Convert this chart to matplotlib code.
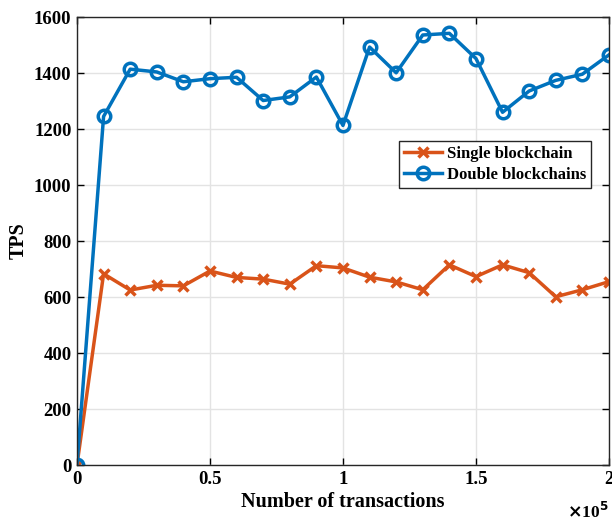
import numpy as np
import matplotlib
matplotlib.use("Agg")
from matplotlib import pyplot as plt

# number of transactions (x 1e5) and measured TPS
tx = np.arange(0, 2.01, 0.1)
single = [0, 683, 625, 642, 640, 693, 670, 664, 646, 712, 704,
          671, 654, 626, 715, 673, 715, 687, 601, 626, 655]
double = [0, 1245, 1414, 1404, 1369, 1380, 1385, 1302, 1315, 1386, 1213,
          1493, 1401, 1536, 1542, 1452, 1260, 1336, 1374, 1396, 1465]

plt.rcParams['font.family'] = ['Liberation Serif', 'DejaVu Serif']
plt.rcParams['font.weight'] = 'bold'

fig = plt.figure(figsize=(6.12, 5.18), dpi=100)
ax = fig.add_axes([0.1258, 0.1023, 0.8692, 0.8647])

ax.plot(tx, single, color='#D95319', lw=2.5, marker='x', ms=7, mew=2.5,
        label='Single blockchain')
ax.plot(tx, double, color='#0072BD', lw=2.5, marker='o', ms=9, mew=2.5,
        mfc='none', label='Double blockchains')

ax.set_xlim(0, 2)
ax.set_ylim(0, 1600)
ax.set_xticks([0, 0.5, 1, 1.5, 2])
ax.set_xticklabels(['0', '0.5', '1', '1.5', '2'])
ax.set_yticks(np.arange(0, 1601, 200))
ax.tick_params(direction='in', labelsize=13.5, length=5, width=1,
               top=True, right=True, pad=4)
ax.grid(True, color='#e3e3e3', lw=1)
ax.set_axisbelow(True)
for s in ax.spines.values():
    s.set_linewidth(1)
    s.set_color('#262626')

ax.set_xlabel('Number of transactions', fontsize=14.5, fontweight='bold', labelpad=3)
ax.set_ylabel('TPS', fontsize=14.5, fontweight='bold', labelpad=4)
ax.text(1.0, -0.083, r'$\times$10$^5$', transform=ax.transAxes,
        ha='right', va='top', fontsize=12.5, fontweight='bold')

leg = ax.legend(loc='upper left', bbox_to_anchor=(0.605, 0.723), fontsize=12,
                fancybox=False, framealpha=1, edgecolor='#262626',
                handlelength=2.3, borderpad=0.3, labelspacing=0.3,
                handletextpad=0.3, borderaxespad=0)
leg.get_frame().set_linewidth(1)

fig.savefig('out.png', dpi=100)
